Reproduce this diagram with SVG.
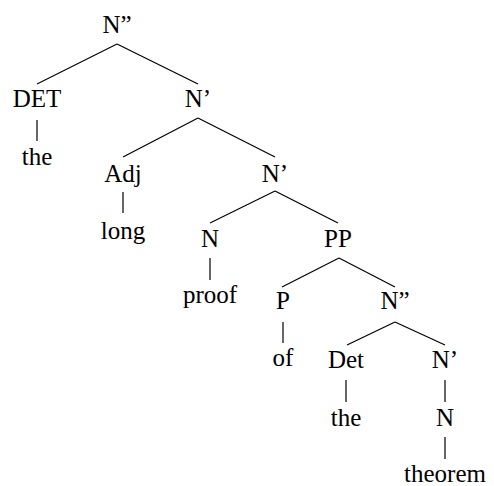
<svg xmlns="http://www.w3.org/2000/svg" width="494" height="486" viewBox="0 0 494 486">
<style>
text{font-family:"Liberation Serif","Times New Roman",serif;font-size:25px;fill:#000;text-anchor:middle}
.e line{stroke:#000;stroke-width:1.2}
</style>
<rect width="494" height="486" fill="#fff"/>
<g class="e" id="connectors">
<line x1="117" y1="44" x2="37" y2="84"/>
<line x1="117" y1="44" x2="198" y2="84"/>
<line x1="37" y1="120" x2="37" y2="141"/>
<line x1="198" y1="118" x2="123" y2="157"/>
<line x1="198" y1="118" x2="275" y2="157"/>
<line x1="123" y1="192" x2="123" y2="213"/>
<line x1="275" y1="191" x2="210" y2="223"/>
<line x1="275" y1="191" x2="338" y2="223"/>
<line x1="210" y1="258" x2="210" y2="280"/>
<line x1="339" y1="258" x2="282" y2="287"/>
<line x1="339" y1="258" x2="395" y2="287"/>
<line x1="283" y1="322" x2="283" y2="343"/>
<line x1="395" y1="322" x2="347" y2="345"/>
<line x1="395" y1="322" x2="445" y2="345"/>
<line x1="346" y1="380" x2="346" y2="402"/>
<line x1="445" y1="380" x2="445" y2="402"/>
<line x1="445" y1="437" x2="445" y2="459"/>
</g>
<g id="n-root"><text x="117" y="33">N”</text></g>
<g id="n-det"><text x="37" y="107">DET</text></g>
<g id="n-the1"><text x="37" y="165">the</text></g>
<g id="n-nbar1"><text x="198" y="107">N’</text></g>
<g id="n-adj"><text x="123" y="182">Adj</text></g>
<g id="n-long"><text x="123" y="239">long</text></g>
<g id="n-nbar2"><text x="275" y="182">N’</text></g>
<g id="n-n1"><text x="210" y="247">N</text></g>
<g id="n-proof"><text x="210" y="303">proof</text></g>
<g id="n-pp"><text x="338" y="247">PP</text></g>
<g id="n-p"><text x="283" y="309">P</text></g>
<g id="n-of"><text x="283" y="366">of</text></g>
<g id="n-nbarbar2"><text x="395" y="309">N”</text></g>
<g id="n-det2"><text x="346" y="368">Det</text></g>
<g id="n-the2"><text x="346" y="426">the</text></g>
<g id="n-nbar3"><text x="445" y="368">N’</text></g>
<g id="n-n2"><text x="445" y="426">N</text></g>
<g id="n-theorem"><text x="445" y="482">theorem</text></g>
</svg>
